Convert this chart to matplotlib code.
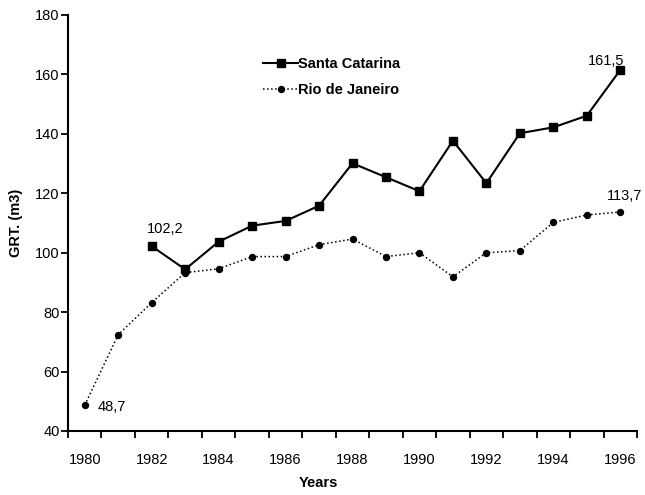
import matplotlib
matplotlib.use("Agg")
import matplotlib.pyplot as plt
import numpy as np

plt.rcParams['font.family'] = ['Liberation Sans', 'DejaVu Sans']

# Data
years = np.arange(1980, 1997)
santa_years = np.arange(1982, 1997)
santa_catarina = [102.2, 94.4, 103.7, 109.1, 110.7, 115.8, 130.1, 125.4, 120.7,
                  137.7, 123.4, 140.2, 142.2, 146.1, 161.5]
rio_de_janeiro = [48.7, 72.4, 83.2, 93.3, 94.6, 98.7, 98.7, 102.7, 104.6, 98.7,
                  100.0, 91.9, 100.0, 100.7, 110.2, 112.7, 113.7]
year_labels = [str(y) for y in range(1980, 1997, 2)]

fig = plt.figure(figsize=(6.45, 4.95), dpi=100)
ax = fig.add_axes([68 / 645, 1 - 431 / 495, (637 - 68) / 645, (431 - 15) / 495])

ax.plot(santa_years, santa_catarina, color='black', lw=1.5, marker='s', ms=5.5,
        label='Santa Catarina')
ax.plot(years, rio_de_janeiro, color='black', lw=1.1, ls=':', marker='o', ms=4.3,
        label='Rio de Janeiro')

# value labels
ax.annotate('102,2', (santa_years[0], santa_catarina[0]), xytext=(14, 10),
            textcoords='offset pixels', ha='center', va='bottom', fontsize=10.5)
ax.annotate('161,5', (santa_years[-1], santa_catarina[-1]), xytext=(-14, 2),
            textcoords='offset pixels', ha='center', va='bottom', fontsize=10.5)
ax.annotate('113,7', (years[-1], rio_de_janeiro[-1]), xytext=(4, 9),
            textcoords='offset pixels', ha='center', va='bottom', fontsize=10.5)
ax.annotate('48,7', (years[0], rio_de_janeiro[0]), xytext=(27, -2),
            textcoords='offset pixels', ha='center', va='center', fontsize=10.5)

ax.set_xlim(1979.5, 1996.5)
ax.set_ylim(40, 180)
ax.set_yticks(np.arange(40, 181, 20))
ax.set_xticks(np.arange(1979.5, 1997, 1))
ax.set_xticklabels([])
ax.set_xticks(np.arange(1980, 1997, 2), minor=True)
ax.set_xticklabels(year_labels, minor=True)
ax.tick_params(axis='x', which='major', direction='out', length=5, width=1.3)
ax.tick_params(axis='x', which='minor', length=0, pad=15.5, labelsize=10.5)
ax.tick_params(axis='y', direction='out', length=5, width=1.3, labelsize=10.5, pad=1)

for s in ['top', 'right']:
    ax.spines[s].set_visible(False)
for s in ['left', 'bottom']:
    ax.spines[s].set_linewidth(1.5)

ax.set_ylabel('GRT. (m3)', fontsize=10.5, fontweight='bold', labelpad=9)
fig.text(318 / 645, 1 - 483 / 495, 'Years', ha='center', va='center',
         fontsize=10.5, fontweight='bold')

leg = ax.legend(loc='upper left', bbox_to_anchor=(0.32, 0.93), frameon=False,
                handlelength=2.4, handletextpad=0.0, labelspacing=0.8,
                prop={'weight': 'bold', 'size': 10.5})

fig.savefig('out.png', dpi=100)
